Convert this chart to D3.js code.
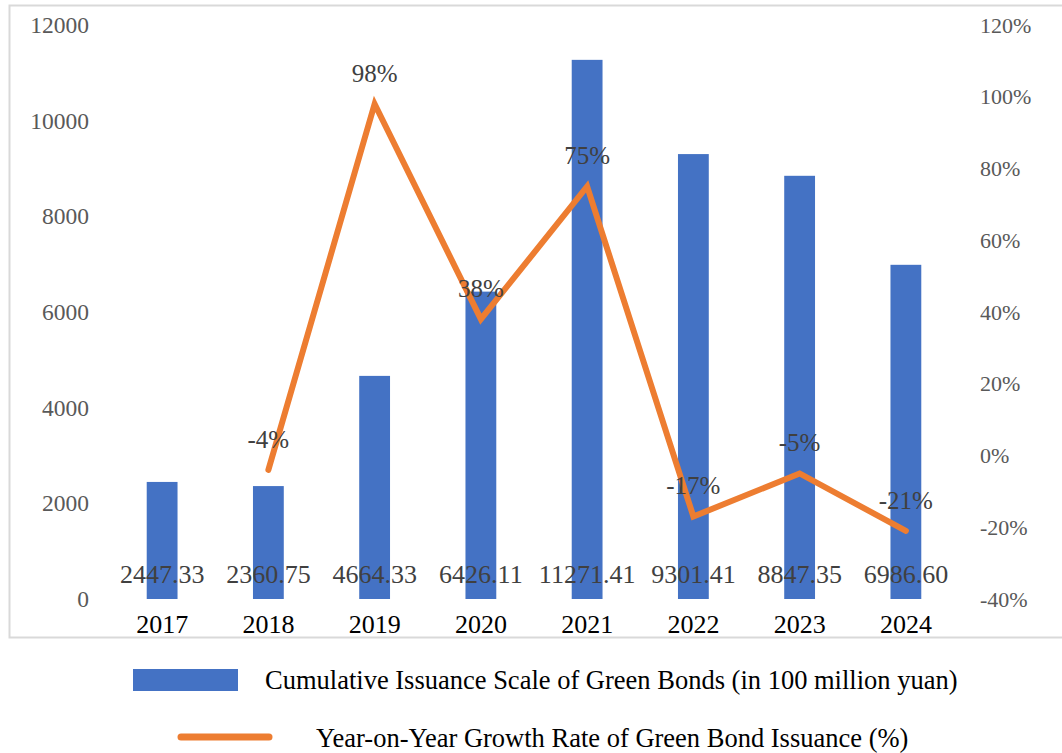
<!DOCTYPE html>
<html>
<head>
<meta charset="utf-8">
<script src="https://cdn.jsdelivr.net/npm/d3@7"></script>
<style>
  body { margin: 0; background: #fff; }
</style>
</head>
<body>
<div id="chart"></div>
<script>
// data
var years = ["2017", "2018", "2019", "2020", "2021", "2022", "2023", "2024"];
var issuance = [2447.33, 2360.75, 4664.33, 6426.11, 11271.41, 9301.41, 8847.35, 6986.60];
var growth = [null, -4, 98, 38, 75, -17, -5, -21];
var leftTicks = [0, 2000, 4000, 6000, 8000, 10000, 12000];
var rightTicks = [-40, -20, 0, 20, 40, 60, 80, 100, 120];
var barName = "Cumulative Issuance Scale of Green Bonds (in 100 million yuan)";
var lineName = "Year-on-Year Growth Rate of Green Bond Issuance (%)";

var width = 1062, height = 753;
var serif = "'Liberation Serif'";

var svg = d3.select("#chart").append("svg")
  .attr("width", width)
  .attr("height", height)
  .style("font-family", serif);

// plot frame
svg.append("rect")
  .attr("x", 9.5).attr("y", 5.5)
  .attr("width", 1070).attr("height", 632)
  .attr("fill", "none")
  .attr("stroke", "#d9d9d9")
  .attr("stroke-width", 2);

// scales
var x = d3.scaleBand().domain(years).range([109, 959]).paddingInner(0.71).paddingOuter(0.355);
var yL = d3.scaleLinear().domain([0, 12000]).range([599, 25]);
var yR = d3.scaleLinear().domain([-40, 120]).range([599, 25]);

// left axis
var axL = svg.append("g")
  .attr("transform", "translate(89,0)")
  .call(d3.axisLeft(yL).tickValues(leftTicks).tickSize(0).tickPadding(0).tickFormat(d3.format("d")));
axL.select(".domain").remove();
axL.selectAll("text")
  .attr("fill", "#595959")
  .style("font-size", "23.5px")
  .style("font-family", serif);

// right axis
var axR = svg.append("g")
  .attr("transform", "translate(980,0)")
  .call(d3.axisRight(yR).tickValues(rightTicks).tickSize(0).tickPadding(0)
    .tickFormat(function(d){ return d + "%"; }));
axR.select(".domain").remove();
axR.selectAll("text")
  .attr("fill", "#595959")
  .style("font-size", "22px")
  .style("font-family", serif);

// bottom axis labels
var axB = svg.append("g")
  .attr("transform", "translate(0,615)")
  .call(d3.axisBottom(x).tickSize(0).tickPadding(0));
axB.select(".domain").remove();
axB.selectAll("text")
  .attr("fill", "#000")
  .attr("dy", "0.71em")
  .style("font-size", "26px")
  .style("font-family", serif);

// bars
svg.selectAll(".bar")
  .data(issuance)
  .enter()
  .append("rect")
  .attr("class", "bar")
  .attr("x", function(d, i){ return x(years[i]); })
  .attr("y", function(d){ return yL(d); })
  .attr("width", x.bandwidth())
  .attr("height", function(d){ return yL(0) - yL(d); })
  .attr("fill", "#4472c4");

// bar labels
svg.selectAll(".barlabel")
  .data(issuance)
  .enter()
  .append("text")
  .attr("class", "barlabel")
  .attr("x", function(d, i){ return x(years[i]) + x.bandwidth() / 2; })
  .attr("y", 583)
  .attr("text-anchor", "middle")
  .attr("fill", "#404040")
  .style("font-size", "26px")
  .style("font-family", serif)
  .text(function(d){ return d.toFixed(2); });

// growth line
var pts = growth.map(function(d, i){ return {year: years[i], v: d}; })
  .filter(function(d){ return d.v !== null; });

var line = d3.line()
  .x(function(d){ return x(d.year) + x.bandwidth() / 2; })
  .y(function(d){ return yR(d.v); });

svg.append("path")
  .datum(pts)
  .attr("d", line)
  .attr("fill", "none")
  .attr("stroke", "#ed7d31")
  .attr("stroke-width", 6)
  .attr("stroke-linejoin", "miter")
  .attr("stroke-linecap", "round");

svg.selectAll(".linelabel")
  .data(pts)
  .enter()
  .append("text")
  .attr("class", "linelabel")
  .attr("x", function(d){ return x(d.year) + x.bandwidth() / 2; })
  .attr("y", function(d){ return yR(d.v) - 22; })
  .attr("text-anchor", "middle")
  .attr("fill", "#404040")
  .style("font-size", "25px")
  .style("font-family", serif)
  .text(function(d){ return d.v + "%"; });

// legend
svg.append("rect")
  .attr("x", 133).attr("y", 669)
  .attr("width", 105).attr("height", 22)
  .attr("fill", "#4472c4");
svg.append("text")
  .attr("x", 265).attr("y", 689)
  .attr("fill", "#000")
  .style("font-size", "26.5px")
  .style("font-family", serif)
  .text(barName);

svg.append("line")
  .attr("x1", 181).attr("x2", 269)
  .attr("y1", 737).attr("y2", 737)
  .attr("stroke", "#ed7d31")
  .attr("stroke-width", 7)
  .attr("stroke-linecap", "round");
svg.append("text")
  .attr("x", 316).attr("y", 747)
  .attr("fill", "#000")
  .style("font-size", "26.5px")
  .style("font-family", serif)
  .text(lineName);
</script>
</body>
</html>
